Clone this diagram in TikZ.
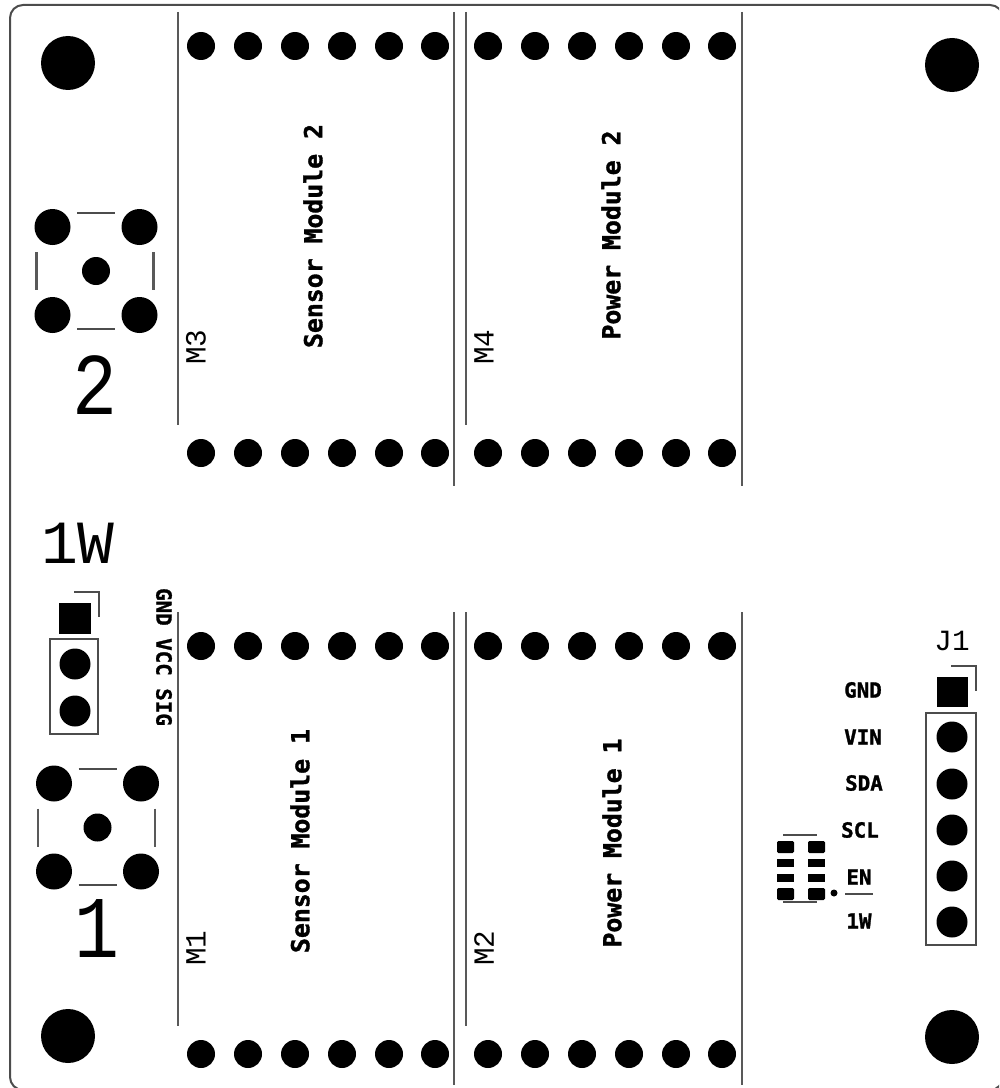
\documentclass[tikz,border=0pt]{standalone}
\usepackage{fontspec}
\setmonofont{Liberation Mono}
\newfontfamily\silkfont{DejaVu Sans Mono}[BoldFeatures={FakeBold=1.4}]
\tikzset{
	silk/.style={draw=black!65,line width=2.1pt},
	thin silk/.style={draw=black!70,line width=1.5pt},
	bold label/.style={font=\silkfont\bfseries\fontsize{18.6}{20}\selectfont,inner sep=0pt},
	pin label/.style={font=\silkfont\bfseries\fontsize{15.6}{17}\selectfont,inner sep=0pt},
	ref label/.style={font=\ttfamily\fontsize{22}{24}\selectfont,inner sep=0pt},
	big label/.style={font=\ttfamily\fontsize{66}{68}\selectfont,inner sep=0pt,xscale=.85},
}
\begin{document}
\begin{tikzpicture}[x=.75pt,y=-.75pt]
	\path [use as bounding box,clip] (0,0) rectangle (999,1088);
	% board outline
	\draw [thin silk,rounded corners=9.75pt] (10,5) rectangle (1003,1090);
	% mounting holes
	\foreach \hx/\hy in {68/63,952/65,68/1036,952/1037}
		\fill (\hx,\hy) circle (27);
	% module pads
	\foreach \py in {46,453,646,1054}
		\foreach \px in {201,248,295,342,389,435,488,535,582,629,676,722}
			\fill (\px,\py) circle (14);
	% module edges
	\foreach \ty/\by/\ly in {12/486/425,612/1085/1026} {
		\draw [silk] (178,\ty) -- (178,\ly);
		\draw [silk] (454,\ty) -- (454,\by);
		\draw [silk] (466,\ty) -- (466,\ly);
		\draw [silk] (742,\ty) -- (742,\by);
	}
	% buttons
	\foreach \bx/\by in {96/271,97.5/827.5} {
		\fill (\bx,\by) circle (14);
		\foreach \dx in {-43.5,43.5}
			\foreach \dy in {-44,44}
				\fill ({\bx+\dx},{\by+\dy}) circle (18);
		\draw [thin silk] ({\bx-19},{\by-58.5}) -- ({\bx+19},{\by-58.5});
		\draw [thin silk] ({\bx-19},{\by+57.5}) -- ({\bx+19},{\by+57.5});
		\draw [silk] ({\bx-59.5},{\by-19}) -- ({\bx-59.5},{\by+19});
		\draw [silk] ({\bx+57.5},{\by-19}) -- ({\bx+57.5},{\by+19});
	}
	% 1W header
	\fill (59,603) rectangle (91,634);
	\fill (75,664) circle (15.5);
	\fill (75,711) circle (15.5);
	\draw [thin silk] (50,639) rectangle (98,734);
	\draw [thin silk] (74,592) -- (99,592) -- (99,617);
	% J1 header
	\fill (937,677) rectangle (968,707);
	\foreach \jy in {737,784,830,876,922}
		\fill (952,\jy) circle (15.5);
	\draw [thin silk] (926,713) rectangle (976,945);
	\draw [thin silk] (951,666) -- (976,666) -- (976,691);
	% small chip
	\foreach \cx in {777,808} {
		\fill [rounded corners=1pt] (\cx,841) rectangle (\cx+17,853);
		\fill (\cx,859) rectangle (\cx+17,867);
		\fill (\cx,874) rectangle (\cx+17,882);
		\fill [rounded corners=1pt] (\cx,888) rectangle (\cx+17,900);
	}
	\draw [thin silk] (783,835) -- (817,835);
	\draw [thin silk] (783,902) -- (817,902);
	\fill (834,893) circle (3.5);
	\draw [thin silk] (845,894) -- (873,894);
	% labels
	\node [bold label,rotate=90] (sensortwo) at (313,236) {Sensor Module 2};
	\node [bold label,rotate=90] (powertwo) at (611,235) {Power Module 2};
	\node [bold label,rotate=90] (sensorone) at (300,841) {Sensor Module 1};
	\node [bold label,rotate=90] (powerone) at (612,843) {Power Module 1};
	\node [ref label,rotate=90] (mthree) at (196,347) {M3};
	\node [ref label,rotate=90] (mfour) at (484,347) {M4};
	\node [ref label,rotate=90] (mone) at (196,948) {M1};
	\node [ref label,rotate=90] (mtwo) at (484,948) {M2};
	\node [ref label] (jone) at (952,641) {J1};
	\node [big label] (btntwo) at (95,385) {2};
	\node [big label] (btnone) at (97,929) {1};
	\node [big label,xscale=1/.85,font=\ttfamily\fontsize{46}{48}\selectfont] (onewire) at (78,543) {1W};
	\node [pin label,rotate=-90] (hdrpins) at (164,657) {GND VCC SIG};
	\node [pin label] (pgnd) at (863,690) {GND};
	\node [pin label] (pvin) at (863,737) {VIN};
	\node [pin label] (psda) at (864,783) {SDA};
	\node [pin label] (pscl) at (860,830) {SCL};
	\node [pin label] (pen) at (859,877) {EN};
	\node [pin label] (pow) at (859,921) {1W};
\end{tikzpicture}
\end{document}
